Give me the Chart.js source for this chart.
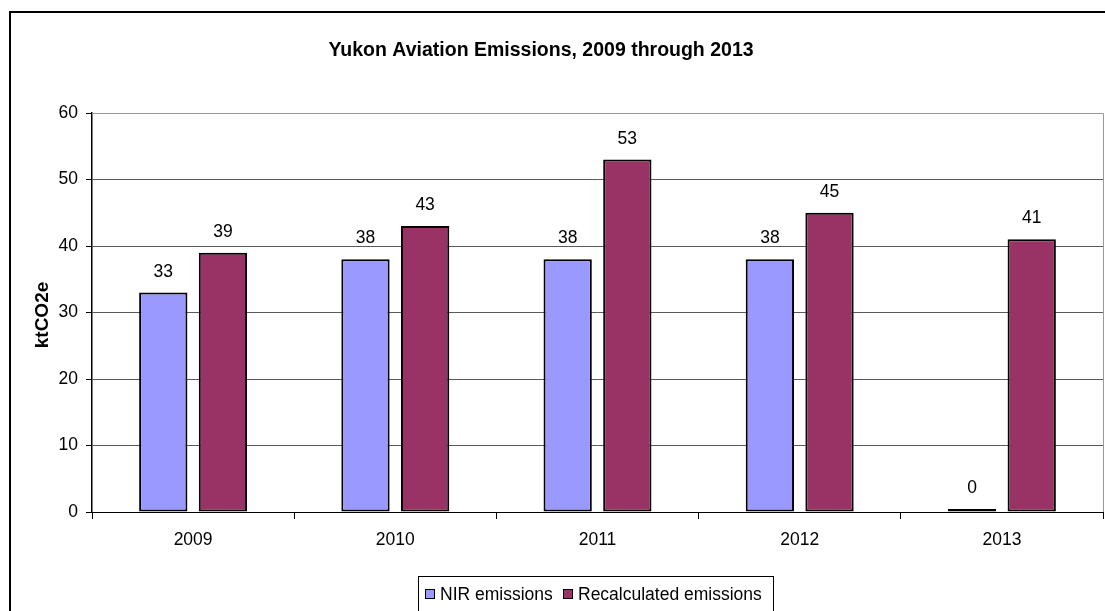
<!DOCTYPE html>
<html>
<head>
<meta charset="utf-8">
<script src="https://cdn.jsdelivr.net/npm/chart.js@4"></script>
<style>
  html, body { margin: 0; padding: 0; background: #fff; }
  #wrap { position: relative; width: 1105px; height: 611px; }
</style>
</head>
<body>
<div id="wrap"><canvas id="aviationChart" width="1105" height="611"></canvas></div>
<script>
'use strict';

// Chart data
const years = ['2009', '2010', '2011', '2012', '2013'];
const nirEmissions = [33, 38, 38, 38, 0];
const recalculatedEmissions = [39, 43, 53, 45, 41];
const yTicks = [0, 10, 20, 30, 40, 50, 60];

const FONT = '"Liberation Sans", Arial, sans-serif';

// Frame, titles, value labels and legend box
const decorPlugin = {
  id: 'decor',
  beforeDraw(chart) {
    const ctx = chart.ctx;
    ctx.save();
    ctx.fillStyle = '#fff';
    ctx.fillRect(0, 0, chart.width, chart.height);
    ctx.strokeStyle = '#000';
    ctx.lineWidth = 2;
    ctx.strokeRect(10, 12, 2000, 2000);
    ctx.restore();
  },
  afterDraw(chart) {
    const ctx = chart.ctx;
    const area = chart.chartArea;
    ctx.save();

    // plot border (top/right)
    ctx.strokeStyle = '#999';
    ctx.lineWidth = 1;
    ctx.beginPath();
    ctx.moveTo(area.left, area.top + 0.5);
    ctx.lineTo(area.right + 0.5, area.top + 0.5);
    ctx.lineTo(area.right + 0.5, area.bottom);
    ctx.stroke();

    // title
    ctx.fillStyle = '#000';
    ctx.font = 'bold 19.5px ' + FONT;
    ctx.textAlign = 'center';
    ctx.textBaseline = 'alphabetic';
    ctx.fillText('Yukon Aviation Emissions, 2009 through 2013', 541, 56);

    // y axis title
    ctx.save();
    ctx.translate(48, 315);
    ctx.rotate(-Math.PI / 2);
    ctx.font = 'bold 19px ' + FONT;
    ctx.fillText('ktCO2e', 0, 0);
    ctx.restore();

    // value labels
    ctx.font = '17.5px ' + FONT;
    chart.data.datasets.forEach((ds, i) => {
      const meta = chart.getDatasetMeta(i);
      meta.data.forEach((bar, j) => {
        ctx.fillText(String(ds.data[j]), bar.x, bar.y - 16);
      });
    });

    // legend
    ctx.strokeStyle = '#000';
    ctx.lineWidth = 1;
    ctx.strokeRect(418.5, 576.5, 355, 60);
    ctx.textAlign = 'left';
    const items = [
      { x: 425, text: chart.data.datasets[0].label, color: chart.data.datasets[0].backgroundColor },
      { x: 563, text: chart.data.datasets[1].label, color: chart.data.datasets[1].backgroundColor },
    ];
    items.forEach((it) => {
      ctx.fillStyle = it.color;
      ctx.fillRect(it.x, 589, 10, 10);
      ctx.strokeRect(it.x + 0.5, 589.5, 9, 9);
      ctx.fillStyle = '#000';
      ctx.fillText(it.text, it.x + 15, 600);
    });

    ctx.restore();
  },
};

const aviationData = {
  labels: years,
  datasets: [
    {
      label: 'NIR emissions',
      backgroundColor: '#9999FF',
      borderColor: '#000',
      borderWidth: 2,
      borderSkipped: false,
      inflateAmount: 0,
      minBarLength: 3,
      data: nirEmissions,
    },
    {
      label: 'Recalculated emissions',
      backgroundColor: '#993366',
      borderColor: '#000',
      borderWidth: 2,
      borderSkipped: false,
      inflateAmount: 0,
      data: recalculatedEmissions,
    },
  ],
};

const aviationConfig = {
  type: 'bar',
  data: aviationData,
  plugins: [decorPlugin],
  options: {
    responsive: false,
    animation: false,
    categoryPercentage: 0.59,
    barPercentage: 0.81,
    layout: { padding: { top: 113, right: 2, left: 0, bottom: 0 } },
    plugins: {
      legend: { display: false },
      title: { display: false },
      tooltip: { enabled: false },
    },
    scales: {
      x: {
        offset: true,
        grid: { offset: true, drawOnChartArea: false, tickLength: 7, color: '#000' },
        border: { color: '#000', width: 1 },
        ticks: { color: '#000', font: { family: FONT, size: 17.5 }, padding: 11, maxRotation: 0 },
        afterFit(scale) { scale.height = 99; },
      },
      y: {
        min: 0,
        max: 60,
        afterBuildTicks(scale) { scale.ticks = yTicks.map((v) => ({ value: v })); },
        grid: {
          color: (c) => (c.tick && c.tick.value === 60 ? '#999' : '#5a5a5a'),
          tickColor: '#000',
          tickLength: 6,
        },
        border: { color: '#000', width: 1.5 },
        ticks: { color: '#000', font: { family: FONT, size: 17.5 }, padding: 8 },
        afterFit(scale) { scale.width = 92; },
      },
    },
  },
};

const aviationChart = new Chart(
  document.getElementById('aviationChart'),
  aviationConfig
);
</script>
</body>
</html>
